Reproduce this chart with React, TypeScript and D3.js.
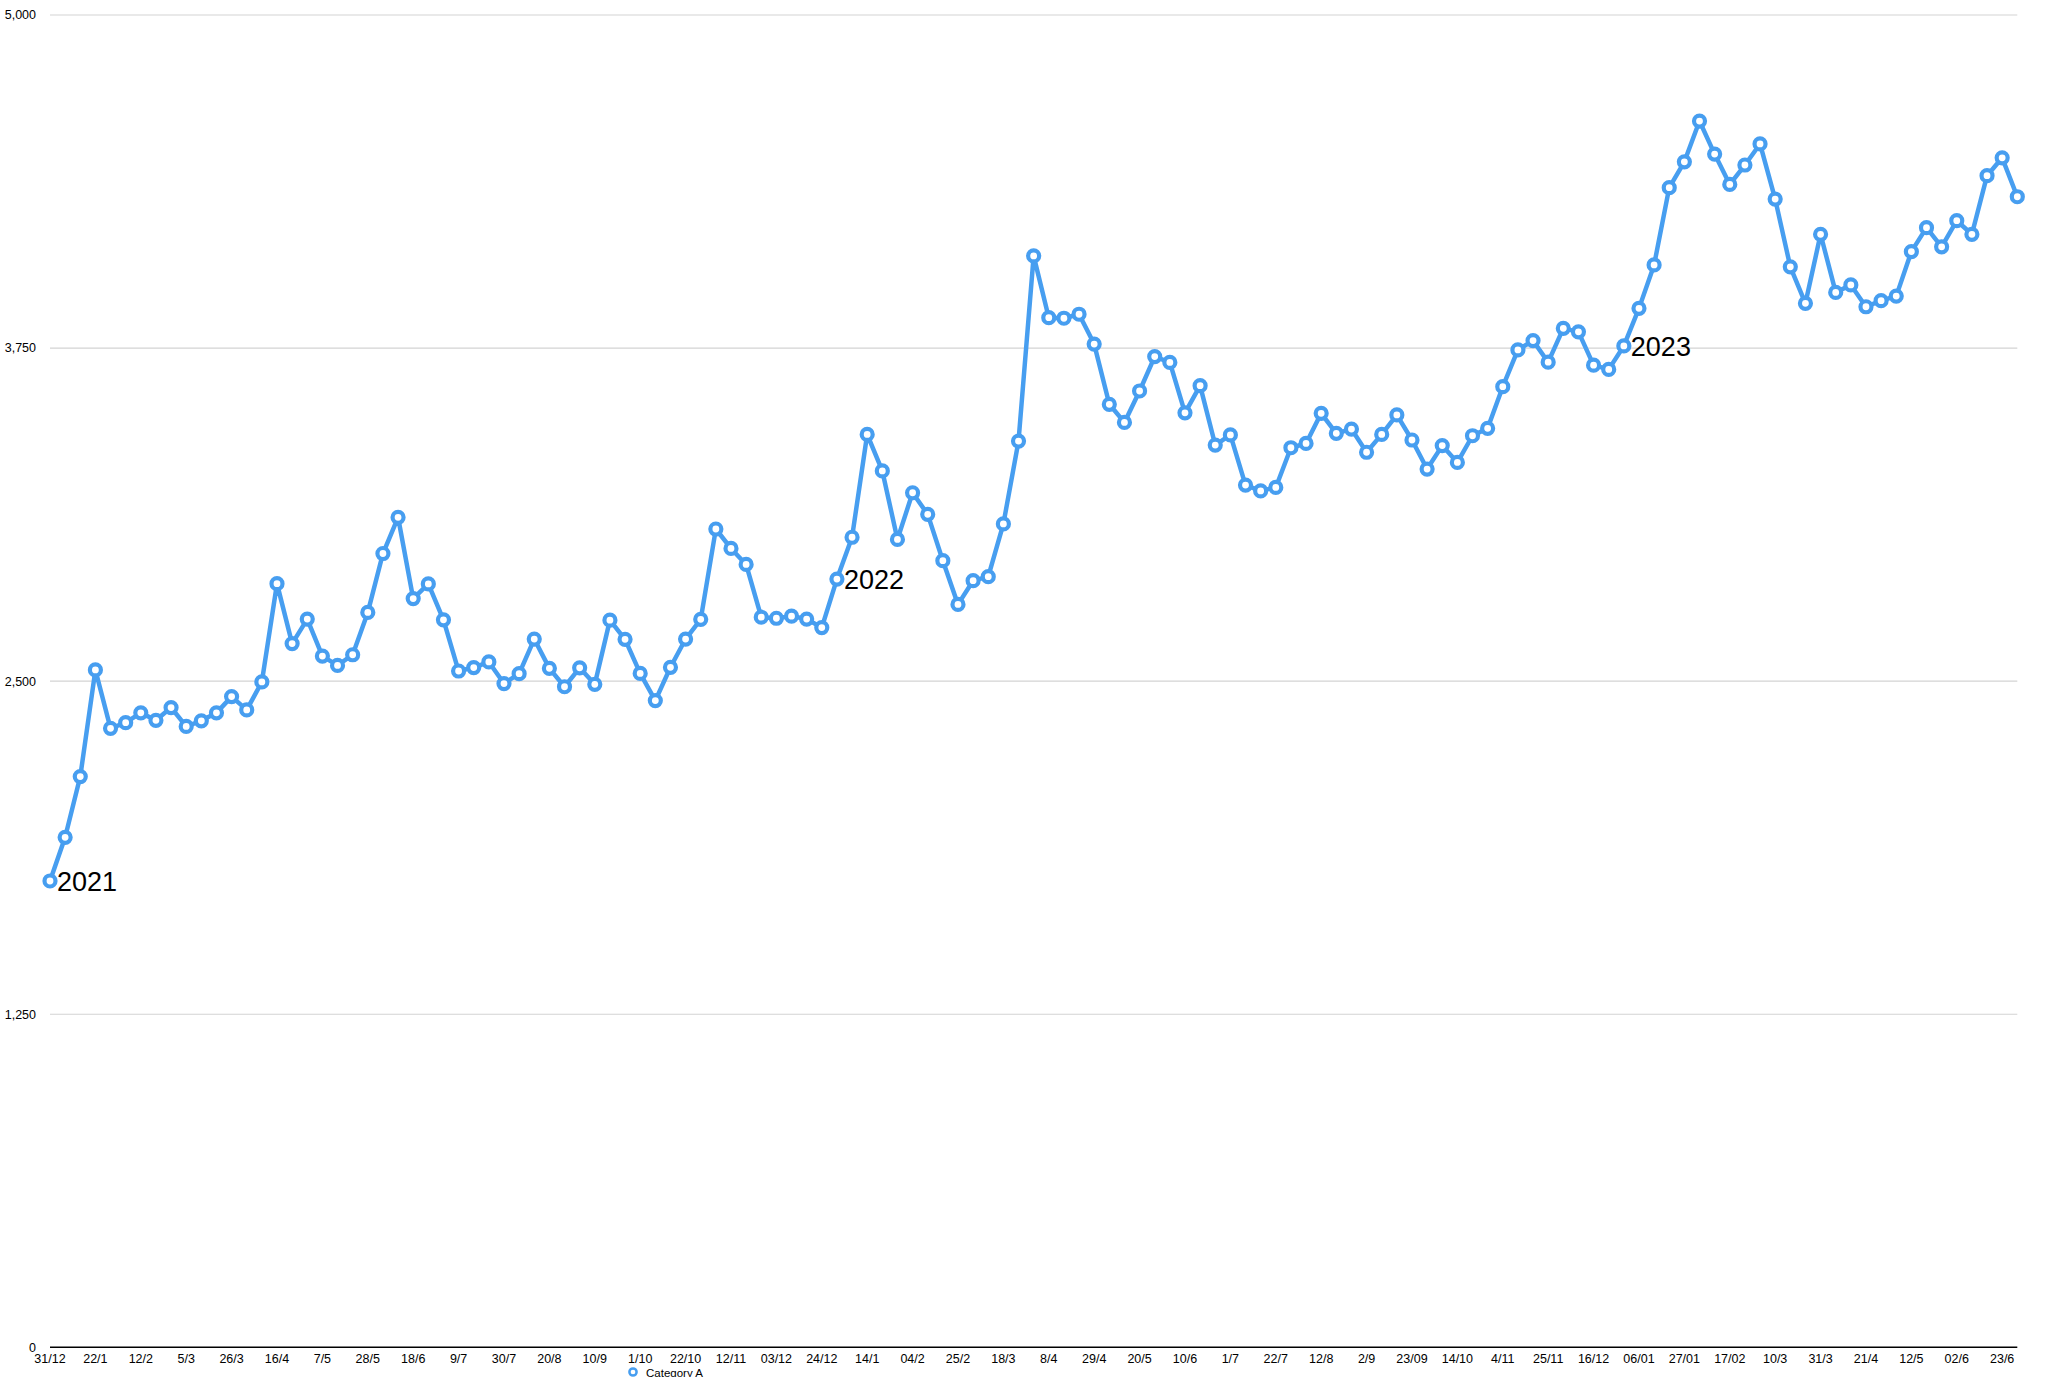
import React, { useEffect, useRef } from "react";
import * as d3 from "d3";

const tickLabels = [
  "31/12", "22/1", "12/2", "5/3", "26/3", "16/4", "7/5", "28/5", "18/6", "9/7", "30/7",
  "20/8", "10/9", "1/10", "22/10", "12/11", "03/12", "24/12", "14/1", "04/2", "25/2", "18/3",
  "8/4", "29/4", "20/5", "10/6", "1/7", "22/7", "12/8", "2/9", "23/09", "14/10", "4/11",
  "25/11", "16/12", "06/01", "27/01", "17/02", "10/3", "31/3", "21/4", "12/5", "02/6", "23/6",
];

const values = [
  1750, 1914, 2142, 2542, 2323, 2344, 2381, 2353, 2401, 2330,
  2351, 2381, 2442, 2392, 2497, 2866, 2641, 2733, 2594, 2559,
  2599, 2758, 2979, 3115, 2810, 2865, 2730, 2538, 2551, 2572,
  2491, 2528, 2658, 2548, 2479, 2550, 2488, 2729, 2657, 2529,
  2427, 2552, 2658, 2732, 3071, 2998, 2938, 2740, 2736, 2744,
  2733, 2701, 2883, 3040, 3426, 3289, 3032, 3207, 3126, 2952,
  2788, 2877, 2892, 3090, 3401, 4096, 3864, 3862, 3877, 3765,
  3539, 3471, 3589, 3718, 3696, 3507, 3609, 3386, 3424, 3236,
  3214, 3227, 3376, 3392, 3505, 3430, 3446, 3359, 3426, 3499,
  3405, 3296, 3384, 3321, 3421, 3449, 3605, 3743, 3778, 3697,
  3824, 3811, 3686, 3670, 3758, 3899, 4062, 4352, 4449, 4602,
  4478, 4364, 4437, 4516, 4309, 4055, 3918, 4177, 3959, 3987,
  3905, 3928, 3945, 4112, 4202, 4130, 4228, 4177, 4397, 4464,
  4318,
];

const yTicks = [0, 1250, 2500, 3750, 5000];

const annotations = [
  { index: 0, label: "2021" },
  { index: 52, label: "2022" },
  { index: 104, label: "2023" },
];

const seriesName = "Category A";

const W = 2048;
const H = 1377;
const BLUE = "#479ef0";
const FONT = "'Liberation Sans', Arial, Helvetica, sans-serif";

export default function App() {
  const ref = useRef<SVGSVGElement | null>(null);

  useEffect(() => {
    const svg = d3.select(ref.current);
    svg.selectAll("*").remove();

    const idx = values.map((_, i) => i);
    const x = d3.scalePoint<number>().domain(idx).range([50, 2017.3]).padding(0);
    const y = d3.scaleLinear().domain([0, 5000]).range([1347.3, 15]);

    svg
      .append("g")
      .selectAll("line")
      .data(yTicks.filter((t) => t > 0))
      .join("line")
      .attr("x1", x(0)!)
      .attr("x2", x(values.length - 1)!)
      .attr("y1", (d) => y(d))
      .attr("y2", (d) => y(d))
      .attr("stroke", "#d3d3d3")
      .attr("stroke-width", 1.2);

    svg
      .append("g")
      .selectAll("text")
      .data(yTicks)
      .join("text")
      .attr("x", 36)
      .attr("y", (d) => y(d))
      .attr("dy", "0.35em")
      .attr("text-anchor", "end")
      .attr("font-family", FONT)
      .attr("font-size", 12.5)
      .attr("fill", "#000")
      .text((d) => d3.format(",")(d));

    svg
      .append("line")
      .attr("x1", x(0)!)
      .attr("x2", x(values.length - 1)!)
      .attr("y1", y(0))
      .attr("y2", y(0))
      .attr("stroke", "#000")
      .attr("stroke-width", 1.5);

    svg
      .append("g")
      .selectAll("text")
      .data(tickLabels)
      .join("text")
      .attr("x", (_, i) => x(i * 3)!)
      .attr("y", y(0) + 16)
      .attr("text-anchor", "middle")
      .attr("font-family", FONT)
      .attr("font-size", 12.5)
      .attr("fill", "#000")
      .text((d) => d);

    const line = d3
      .line<number>()
      .x((_, i) => x(i)!)
      .y((d) => y(d));

    svg
      .append("path")
      .datum(values)
      .attr("d", line)
      .attr("fill", "none")
      .attr("stroke", BLUE)
      .attr("stroke-width", 4.5)
      .attr("stroke-linejoin", "round");

    svg
      .append("g")
      .selectAll("circle")
      .data(values)
      .join("circle")
      .attr("cx", (_, i) => x(i)!)
      .attr("cy", (d) => y(d))
      .attr("r", 5.5)
      .attr("fill", "#fff")
      .attr("stroke", BLUE)
      .attr("stroke-width", 4.2);

    svg
      .append("g")
      .selectAll("text")
      .data(annotations)
      .join("text")
      .attr("x", (d) => x(d.index)! + 7)
      .attr("y", (d) => y(values[d.index]) + 10)
      .attr("font-family", FONT)
      .attr("font-size", 27)
      .attr("fill", "#000")
      .text((d) => d.label);

    const lg = svg.append("g");
    lg.append("circle")
      .attr("cx", 633)
      .attr("cy", 1372)
      .attr("r", 3.6)
      .attr("fill", "#fff")
      .attr("stroke", BLUE)
      .attr("stroke-width", 2.5);
    lg.append("text")
      .attr("x", 646)
      .attr("y", 1376.5)
      .attr("font-family", FONT)
      .attr("font-size", 11.5)
      .attr("fill", "#000")
      .text(seriesName);
  }, []);

  return (
    <svg
      ref={ref}
      width={W}
      height={H}
      style={{ position: "absolute", left: 0, top: 0, background: "#fff" }}
    />
  );
}
